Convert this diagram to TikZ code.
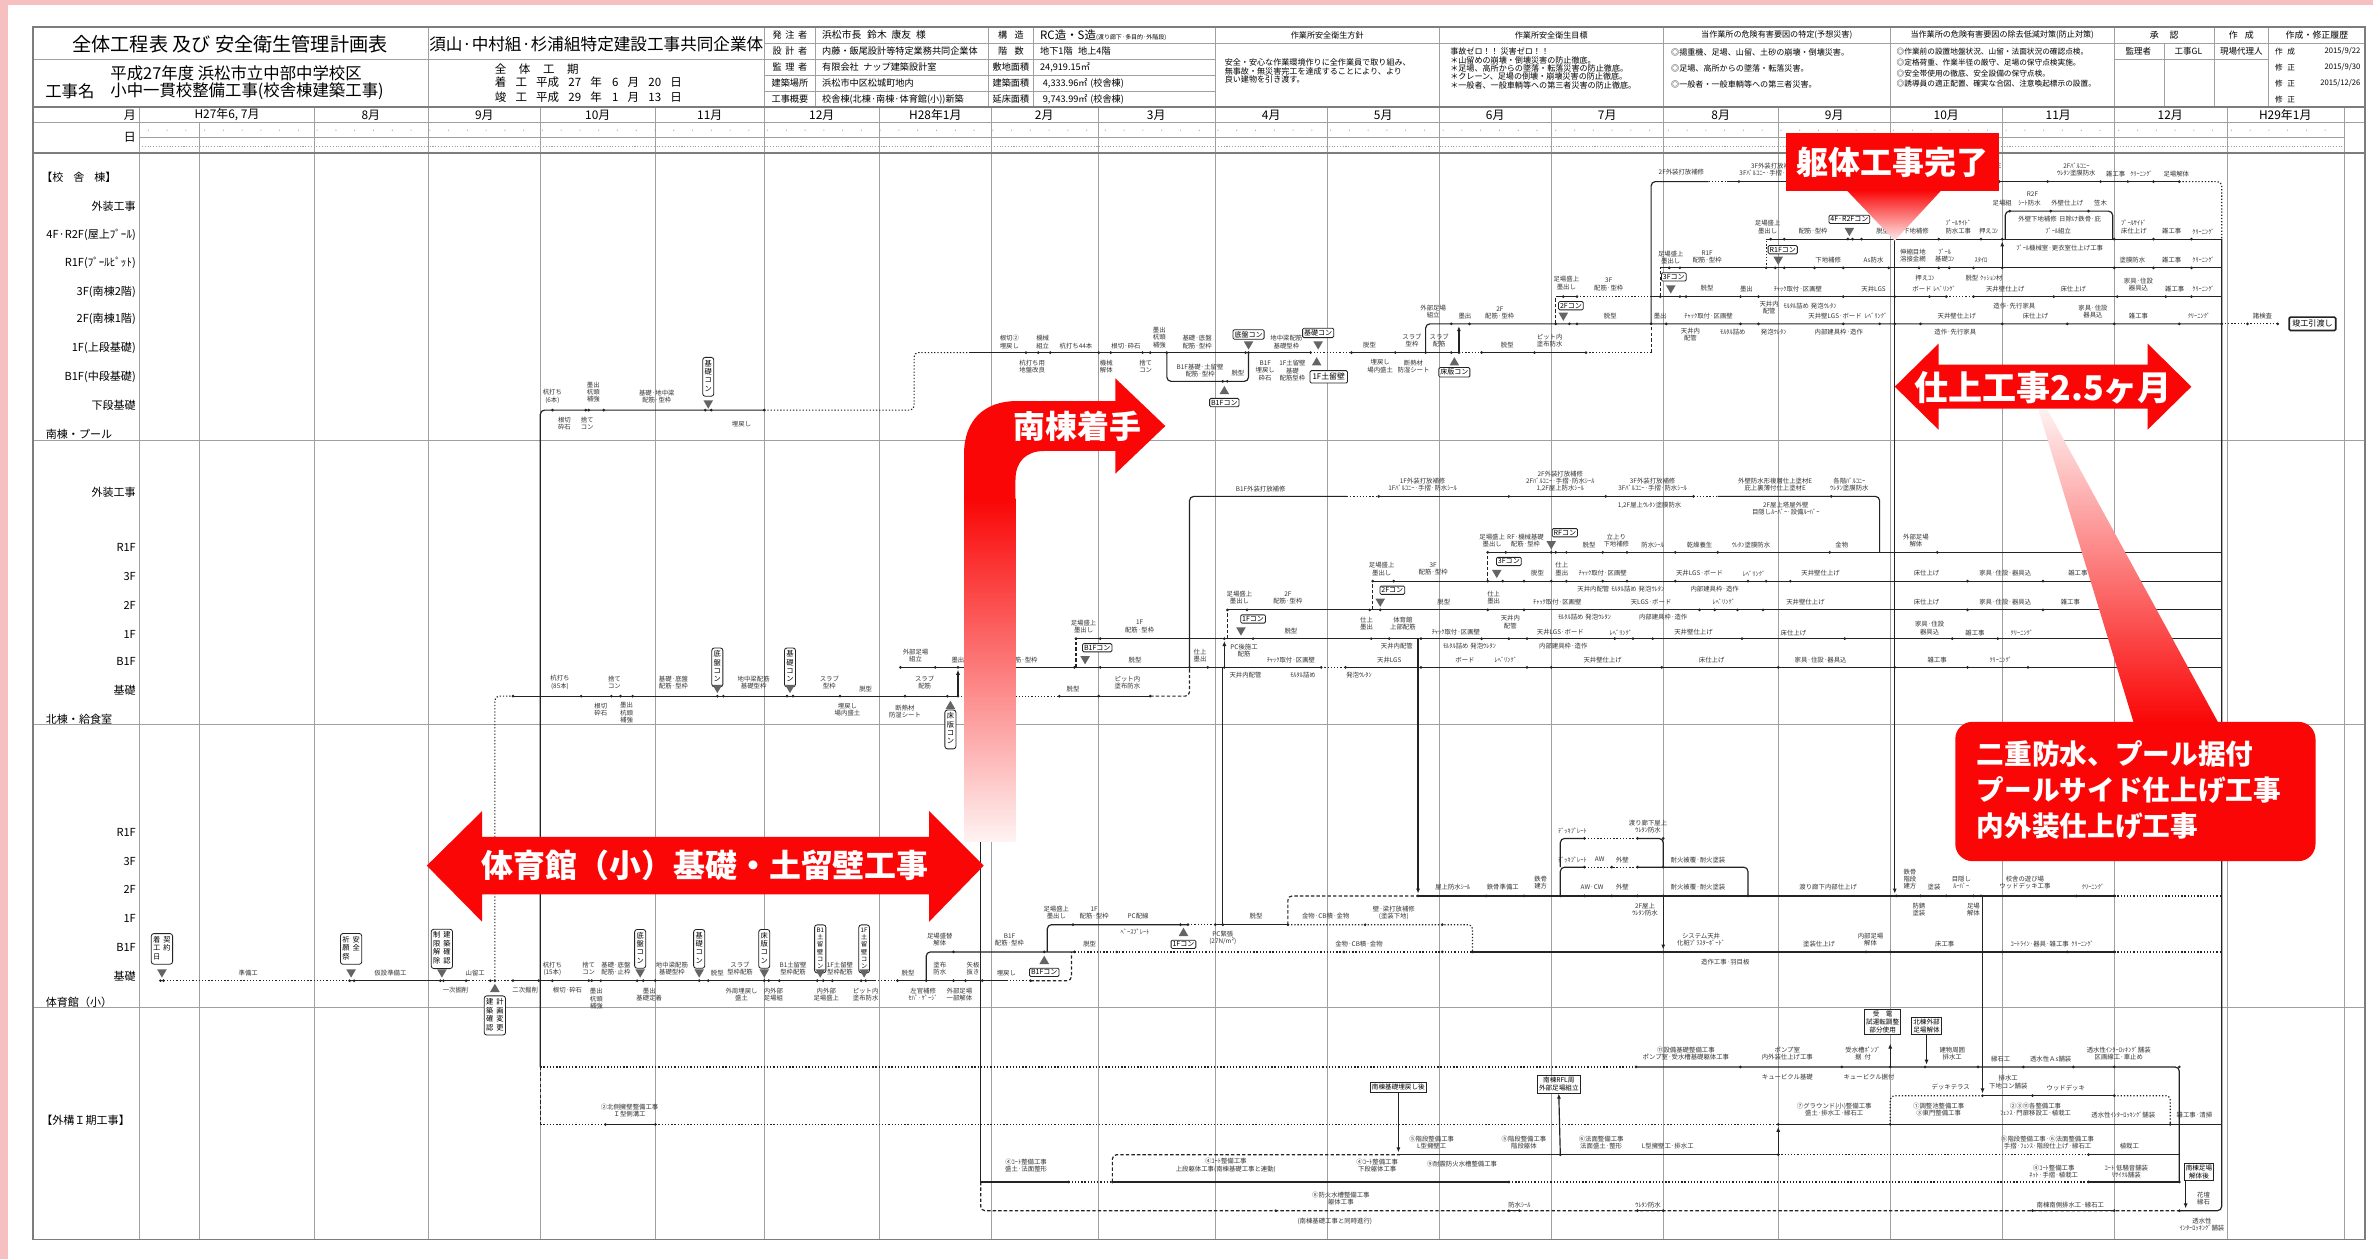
\documentclass[tikz,border=0pt]{standalone}
\usepackage{fontspec}
\setmainfont{Noto Sans CJK JP}
\usetikzlibrary{positioning,arrows.meta,calc}

\definecolor{pinkbg}{RGB}{247,192,192}
\definecolor{callred}{RGB}{250,6,6}
\definecolor{gridgray}{RGB}{160,160,160}
\definecolor{framegray}{RGB}{125,125,125}
\definecolor{linegray}{RGB}{35,35,35}
\definecolor{trigray}{RGB}{100,100,100}

\newcommand\fs[2]{\fontsize{#1pt}{#2pt}\selectfont}
\newcounter{nl}
\newcommand\lb[3]{\stepcounter{nl}\node[tlab] (lb\thenl) at (#1,#2) {#3};}
\newcommand\dts[2]{\foreach \q in {#2}{\fill[linegray] (\q,#1) circle (0.7pt);}}
\newcommand\tdn[2]{\fill[trigray] (#1-3.2,#2-5.5) -- (#1+3.2,#2-5.5) -- (#1,#2) -- cycle;}
\newcommand\tup[2]{\fill[trigray] (#1-3.2,#2+5.5) -- (#1+3.2,#2+5.5) -- (#1,#2) -- cycle;}
\newcommand\mb[3]{\stepcounter{nl}\node[mbox] (mb\thenl) at (#1,#2) {#3};}
\newcommand\vb[3]{\stepcounter{nl}\node[vbox] (vb\thenl) at (#1,#2) {\begin{tabular}{@{}c@{}}#3\end{tabular}};}
\newcommand\vbb[3]{\stepcounter{nl}\node[vbox] (vb\thenl) at (#1,#2) {\begin{tabular}{@{}c@{\hspace{1.4pt}}c@{}}#3\end{tabular}};}

\tikzset{
  frm/.style={draw=framegray, line width=0.9pt},
  grd/.style={draw=gridgray, line width=0.45pt},
  sline/.style={draw=linegray, line width=0.55pt},
  sdot/.style={sline, dash pattern=on 0.6pt off 0.9pt},
  sdsh/.style={sline, dash pattern=on 1.6pt off 1pt},
  arr/.style={-{Latex[length=2.4pt,width=1.9pt]}},
  tlab/.style={font=\fs{3}{3.4}, inner sep=0pt, align=center, text=black!80},
  rowlab/.style={font=\fs{5.2}{6}, anchor=east, inner sep=0pt},
  seclab/.style={font=\fs{5.2}{6}, anchor=west, inner sep=0pt},
  mon/.style={font=\fs{5.6}{6.4}, inner sep=0pt},
  hd/.style={font=\fs{4.3}{5}, inner sep=0pt},
  sm/.style={font=\fs{3.8}{3.95}, inner sep=0pt, align=left, anchor=west},
  mbox/.style={draw=linegray, fill=white, rounded corners=0.6pt, inner sep=0.7pt, font=\fs{3.3}{3.6}, line width=0.4pt},
  vbox/.style={draw=linegray, fill=white, rounded corners=1.2pt, inner xsep=0.9pt, inner ysep=1.2pt, font=\fs{3.4}{3.9}, line width=0.4pt},
  sqbox/.style={draw=linegray, fill=white, inner sep=0.8pt, font=\fs{3.1}{3.7}, align=center, line width=0.45pt},
  bigtxt/.style={text=white, font=\fs{15}{17}\bfseries, inner sep=0pt},
}

\begin{document}
\begin{tikzpicture}[x=0.025cm,y=-0.025cm]
\useasboundingbox (0,0) rectangle (1568,832);
% page
\fill[pinkbg] (0,0) rectangle (1568,832);
\fill[white] (5,3) rectangle (1568,832);

% ===== header grid =====
\draw[grd] (22,39) -- (505,39);
\foreach \yy in {28.6,39.2,49.8,60.4} {\draw[grd] (505,\yy) -- (803,\yy);}
\draw[grd] (803,28.6) -- (1563,28.6);
\draw[grd] (1397,39.2) -- (1499,39.2);
\foreach \xx in {539,653,683,1463,1499} {\draw[grd] (\xx,18) -- (\xx,71);}
\draw[grd] (1430,28.6) -- (1430,71);
\foreach \xx in {283,505,803,951,1099,1249,1397} {\draw[grd] (\xx,18) -- (\xx,71);}
% month and day rows
\draw[grd] (22,81) -- (1563,81);
\draw[grd] (92,91) -- (1549,91);
\draw[grd, dash pattern=on 0.5pt off 0.8pt] (92,97) -- (1549,97);
\foreach \i in {0,...,116} {\fill[gridgray] ({98+12.4*\i},86) circle (0.3pt);}
% month verticals
\foreach \xx in {92,208,283,357,433,505,581,655,726,803,877,951,1025,1099,1175,1249,1323,1397,1472,1549} {\draw[grd] (\xx,71) -- (\xx,819);}
\draw[grd] (132,81) -- (132,819);
% section dividers
\foreach \yy in {291,479,666} {\draw[grd] (22,\yy) -- (1563,\yy);}
\draw[frm] (22,71) -- (1563,71);
\draw[frm] (22,101) -- (1563,101);
\draw[frm] (22,18) rectangle (1563,819);

% ===== header texts =====
\node[font=\fs{9}{10}] (title) at (152,29) {全体工程表 及び 安全衛生管理計画表};
\node[font=\fs{7.8}{9}] (jv) at (394,29) {須山·中村組·杉浦組特定建設工事共同企業体};
\node[font=\fs{7.7}{9}, anchor=west] (year) at (68,48.5) {平成27年度 浜松市立中部中学校区};
\node[font=\fs{7.7}{9}, anchor=west] (kname) at (25,60) {工事名};
\node[font=\fs{7.7}{9}, anchor=west] (kbody) at (68,60) {小中一貫校整備工事(校舎棟建築工事)};
\node[font=\fs{5.4}{6}, anchor=west] (term) at (322,46) {全\hspace{1.1em}体\hspace{1.1em}工\hspace{1.1em}期};
\node[font=\fs{5.4}{6}, anchor=west] (start) at (322,54.5) {着\hspace{0.8em}工\hspace{0.8em}平成\hspace{0.8em}27\hspace{0.8em}年\hspace{0.9em}6\hspace{0.8em}月\hspace{0.8em}20\hspace{0.8em}日};
\node[font=\fs{5.4}{6}, anchor=west] (finish) at (322,64.5) {竣\hspace{0.8em}工\hspace{0.8em}平成\hspace{0.8em}29\hspace{0.8em}年\hspace{0.9em}1\hspace{0.8em}月\hspace{0.8em}13\hspace{0.8em}日};

\node[hd] (i1) at (522,23.3) {発\hspace{0.4em}注\hspace{0.4em}者};
\node[hd] (i2) at (522,33.9) {設\hspace{0.4em}計\hspace{0.4em}者};
\node[hd] (i3) at (522,44.5) {監\hspace{0.4em}理\hspace{0.4em}者};
\node[hd] (i4) at (522,55.1) {建築場所};
\node[hd] (i5) at (522,65.7) {工事概要};
\node[hd, anchor=west, font=\fs{4.6}{5}] (v1) at (543,23.3) {浜松市長\hspace{0.6em}鈴木\hspace{0.5em}康友\hspace{0.5em}様};
\node[hd, anchor=west] (v2) at (543,33.9) {内藤・飯尾設計等特定業務共同企業体};
\node[hd, anchor=west] (v3) at (543,44.5) {有限会社\hspace{0.5em}ナップ建築設計室};
\node[hd, anchor=west] (v4) at (543,55.1) {浜松市中区松城町地内};
\node[hd, anchor=west] (v5) at (543,65.7) {校舎棟(北棟·南棟·体育館(小))新築};
\node[hd] (j1) at (668,23.3) {構\hspace{0.8em}造};
\node[hd] (j2) at (668,33.9) {階\hspace{0.8em}数};
\node[hd] (j3) at (668,44.5) {敷地面積};
\node[hd] (j4) at (668,55.1) {建築面積};
\node[hd] (j5) at (668,65.7) {延床面積};
\node[hd, anchor=west] (w1) at (687,23.3) {{\fs{5.4}{6}RC造・S造}{\fs{2.8}{3}(渡り廊下·多目的·外階段)}};
\node[hd, anchor=west] (w2) at (687,33.9) {地下1階\hspace{0.6em}地上4階};
\node[hd, anchor=west] (w3) at (687,44.5) {24,919.15㎡};
\node[hd, anchor=west] (w4) at (687,55.1) {\hspace{0.3em}4,333.96㎡\hspace{0.3em}(校舎棟)};
\node[hd, anchor=west] (w5) at (687,65.7) {\hspace{0.3em}9,743.99㎡\hspace{0.3em}(校舎棟)};

\node[hd, font=\fs{3.8}{4}] (h1) at (877,23.3) {作業所安全衛生方針};
\node[hd, font=\fs{3.8}{4}] (h2) at (1025,23.3) {作業所安全衛生目標};
\node[hd, font=\fs{3.8}{4}] (h3) at (1174,23.3) {当作業所の危険有害要因の特定(予想災害)};
\node[hd, font=\fs{3.8}{4}] (h4) at (1323,23.3) {当作業所の危険有害要因の除去低減対策(防止対策)};
\node[hd, font=\fs{4.2}{4.5}] (h5) at (1430,23.3) {承\hspace{1.2em}認};
\node[hd, font=\fs{4.2}{4.5}] (h6) at (1481,23.3) {作\hspace{0.8em}成};
\node[hd, font=\fs{4.2}{4.5}] (h7) at (1531,23.3) {作成・修正履歴};
\node[hd, font=\fs{4}{4.5}] (s1) at (1413,33.9) {監理者};
\node[hd, font=\fs{4}{4.5}] (s2) at (1446,33.9) {工事GL};
\node[hd, font=\fs{4}{4.5}] (s3) at (1481,33.9) {現場代理人};
\node[hd, font=\fs{3.6}{4}, anchor=west] (r1) at (1503,33.9) {作\hspace{0.6em}成};
\node[hd, font=\fs{3.6}{4}, anchor=east] (d1) at (1560,33.9) {2015/9/22};
\node[hd, font=\fs{3.6}{4}, anchor=west] (r2) at (1503,44.5) {修\hspace{0.6em}正};
\node[hd, font=\fs{3.6}{4}, anchor=east] (d2) at (1560,44.5) {2015/9/30};
\node[hd, font=\fs{3.6}{4}, anchor=west] (r3) at (1503,55.1) {修\hspace{0.6em}正};
\node[hd, font=\fs{3.6}{4}, anchor=east] (d3) at (1560,55.1) {2015/12/26};
\node[hd, font=\fs{3.6}{4}, anchor=west] (r4) at (1503,65.7) {修\hspace{0.6em}正};

\node[sm] (policy) at (809,47) {安全・安心な作業環境作りに全作業員で取り組み、\\無事故・無災害完工を達成することにより、より\\良い建物を引き渡す。};
\node[sm] (goal) at (958,45.2) {事故ゼロ！！ 災害ゼロ！！\\＊山留めの崩壊・倒壊災害の防止徹底。\\＊足場、高所からの墜落・転落災害の防止徹底。\\＊クレーン、足場の倒壊・崩壊災害の防止徹底。\\＊一般者、一般車輌等への第三者災害の防止徹底。};
\node[sm, font=\fs{3.8}{7.5}] (hazard) at (1104,45.2) {◎揚重機、足場、山留、土砂の崩壊・倒壊災害。\\◎足場、高所からの墜落・転落災害。\\◎一般者・一般車輌等への第三者災害。};
\node[sm, font=\fs{3.6}{5.1}] (measure) at (1253,44.8) {◎作業前の設置地盤状況、山留・法面状況の確認点検。\\◎定格荷重、作業半径の厳守、足場の保守点検実施。\\◎安全帯使用の徹底、安全設備の保守点検。\\◎誘導員の適正配置、確実な合図、注意喚起標示の設置。};

% months
\node[mon, anchor=east] (mlab) at (90,76) {月};
\node[mon, anchor=east] (dlab) at (90,91) {日};
\node[mon] (m01) at (150,76) {H27年6, 7月};
\node[mon] (m02) at (245,76) {8月};
\node[mon] (m03) at (320,76) {9月};
\node[mon] (m04) at (395,76) {10月};
\node[mon] (m05) at (469,76) {11月};
\node[mon] (m06) at (543,76) {12月};
\node[mon] (m07) at (618,76) {H28年1月};
\node[mon] (m08) at (690,76) {2月};
\node[mon] (m09) at (764,76) {3月};
\node[mon] (m10) at (840,76) {4月};
\node[mon] (m11) at (914,76) {5月};
\node[mon] (m12) at (988,76) {6月};
\node[mon] (m13) at (1062,76) {7月};
\node[mon] (m14) at (1137,76) {8月};
\node[mon] (m15) at (1212,76) {9月};
\node[mon] (m16) at (1286,76) {10月};
\node[mon] (m17) at (1360,76) {11月};
\node[mon] (m18) at (1434,76) {12月};
\node[mon] (m19) at (1510,76) {H29年1月};

% row labels
\node[seclab] (secA) at (27,117) {【校\hspace{0.9em}舎\hspace{0.9em}棟】};
\node[rowlab] (ra1) at (90,136) {外装工事};
\node[rowlab] (ra2) at (90,155) {4F·R2F(屋上ﾌﾟｰﾙ)};
\node[rowlab] (ra3) at (90,174) {R1F(ﾌﾟｰﾙﾋﾟｯﾄ)};
\node[rowlab] (ra4) at (90,193) {3F(南棟2階)};
\node[rowlab] (ra5) at (90,211) {2F(南棟1階)};
\node[rowlab] (ra6) at (90,230) {1F(上段基礎)};
\node[rowlab] (ra7) at (90,249) {B1F(中段基礎)};
\node[rowlab] (ra8) at (90,268) {下段基礎};
\node[seclab] (secS) at (30,287) {南棟・プール};
\node[rowlab] (rb1) at (90,325) {外装工事};
\node[rowlab] (rb2) at (90,362) {R1F};
\node[rowlab] (rb3) at (90,381) {3F};
\node[rowlab] (rb4) at (90,400) {2F};
\node[rowlab] (rb5) at (90,419) {1F};
\node[rowlab] (rb6) at (90,437) {B1F};
\node[rowlab] (rb7) at (90,456) {基礎};
\node[seclab] (secN) at (30,475) {北棟・給食室};
\node[rowlab] (rc1) at (90,550) {R1F};
\node[rowlab] (rc2) at (90,569) {3F};
\node[rowlab] (rc3) at (90,588) {2F};
\node[rowlab] (rc4) at (90,607) {1F};
\node[rowlab] (rc5) at (90,626) {B1F};
\node[rowlab] (rc6) at (90,645) {基礎};
\node[seclab] (secG) at (30,662) {体育館（小）};
\node[seclab] (secE) at (27,740) {【外構Ｉ期工事】};

% ===== 南棟・プール =====
\draw[sline, rounded corners=2pt] (357,705) -- (357,271) -- (505,271);
\draw[sdot, rounded corners=2pt] (505,271) -- (604,271) -- (604,233) -- (640,233);
\dts{271}{365,387,389,399,466,470,505}
\lb{365}{262}{杭打ち\\(6本)}
\lb{392}{259}{墨出\\杭頭\\補強}
\lb{434}{262}{基礎·地中梁\\配筋·型枠}
\lb{373}{280}{根切\\砕石}
\lb{388}{280}{捨て\\コン}
\lb{490}{280}{埋戻し}
\vb{468}{249}{基\\礎\\コ\\ン}
\tdn{468}{270}
% 1F
\draw[sline] (640,233) -- (866,233);
\draw[sdot] (866,233) -- (893,233);
\draw[sline] (893,233) -- (964,233);
\draw[sdot] (964,233) -- (979,233);
\draw[sline] (979,233) -- (1048,233);
\draw[sdot] (1048,233) -- (1091,233);
\draw[sdsh] (1091,233) -- (1091,214);
\dts{233}{678,686,694,726,734,755,760,771,823,825,866,893,922,942,959,964,979,1014,1048}
\draw[sline, rounded corners=2pt] (771,233) -- (771,252) -- (825,252) -- (825,233);
\dts{252}{808,811}
\tup{809}{255}
\mb{809}{266}{B1Fコン}
\mb{825}{221}{底盤コン}
\tdn{825}{231}
\mb{871}{220}{基礎コン}
\tdn{871}{231}
\tup{870}{236}
\node[mbox, font=\fs{3.7}{4}, inner sep=1.2pt] (dome) at (878,249) {1F土留壁};
\tup{961}{236}
\mb{961}{246}{床版コン}
\lb{667}{226}{根切②\\埋戻し}
\lb{689}{226}{機械\\組立}
\lb{711}{229}{杭打ち44本}
\lb{744}{229}{根切·砕石}
\lb{766}{223}{墨出\\杭頭\\補強}
\lb{791}{226}{基礎·底盤\\配筋·型枠}
\lb{850}{226}{地中梁配筋\\基礎型枠}
\lb{905}{228}{脱型}
\lb{933}{225}{スラブ\\型枠}
\lb{951}{225}{スラブ\\配筋}
\lb{996}{228}{脱型}
\lb{1024}{225}{ピット内\\塗布防水}
\lb{682}{242}{杭打ち用\\地盤改良}
\lb{731}{242}{機械\\解体}
\lb{757}{242}{捨て\\コン}
\lb{793}{245}{B1F基礎·土留壁\\配筋·型枠}
\lb{818}{246.5}{脱型}
\lb{836}{245}{B1F\\埋戻し\\砕石}
\lb{854}{245}{1F土留壁\\基礎\\配筋型枠}
\lb{912}{242}{埋戻し\\場内盛土}
\lb{934}{242}{断熱材\\防湿シート}
% 2F
\draw[sline, rounded corners=2pt] (942,233) -- (942,214) -- (1468,214);
\draw[sline, arr] (964,233) -- (964,215.5);
\draw[sdot] (1468,214) -- (1505,214);
\dts{214}{959,971,1028,1037,1042,1091,1101,1150,1162,1218,1242,1252,1269,1323,1366,1397,1440,1468,1485,1505}
\mb{1038}{202}{2Fコン}
\tdn{1033}{212}
\node[mbox, line width=0.8pt, font=\fs{3.8}{4}, inner sep=1.4pt] (handover) at (1528,214) {竣工引渡し};
\lb{947}{206}{外部足場\\組立}
\lb{968}{209}{墨出}
\lb{991}{207}{2F\\配筋·型枠}
\lb{1064}{209}{脱型}
\lb{1097}{209}{墨出}
\lb{1129}{209}{ﾁｬｯｸ取付·区画壁}
\lb{1221}{209}{天井壁LGS·ボード\hspace{0.5em}ﾚﾍﾞﾘﾝｸﾞ}
\lb{1293}{209}{天井壁仕上げ}
\lb{1345}{209}{床仕上げ}
\lb{1383}{206}{家具·住設\\器具込}
\lb{1413}{209}{雑工事}
\lb{1453}{209}{ｸﾘｰﾆﾝｸﾞ}
\lb{1495}{209}{諸検査}
\lb{1117}{221}{天井内\\配管}
\lb{1145}{219.5}{ﾓﾙﾀﾙ詰め}
\lb{1172}{219.5}{発泡ｳﾚﾀﾝ}
\lb{1215}{219.5}{内部建具枠·造作}
\lb{1292}{219.5}{造作·先行家具}
% 3F
\draw[sdsh] (1028,214) -- (1028,196);
\draw[sline] (1028,196) -- (1042,196);
\draw[sdot] (1042,196) -- (1091,196);
\draw[sline] (1091,196) -- (1286,196);
\draw[sdot] (1286,196) -- (1304,196);
\draw[sline] (1304,196) -- (1468,196);
\dts{196}{1033,1042,1097,1110,1114,1150,1162,1218,1252,1275,1286,1304,1357,1399,1431,1448}
\mb{1106}{183}{3Fコン}
\tdn{1104}{194}
\lb{1035}{187}{足場盛上\\墨出し}
\lb{1063}{188}{3F\\配筋·型枠}
\lb{1128}{190.5}{脱型}
\lb{1154}{191}{墨出}
\lb{1188}{191}{ﾁｬｯｸ取付·区画壁}
\lb{1238}{191}{天井LGS}
\lb{1272}{184}{押えｺﾝ}
\lb{1278}{191}{ボード\hspace{0.3em}ﾚﾍﾞﾘﾝｸﾞ}
\lb{1311}{184}{脱型\hspace{0.3em}ｸｯｼｮﾝ材}
\lb{1325}{191}{天井壁仕上げ}
\lb{1370}{191}{床仕上げ}
\lb{1413}{188}{家具·住設\\器具込}
\lb{1437}{191}{雑工事}
\lb{1456}{191}{ｸﾘｰﾆﾝｸﾞ}
\lb{1169}{203}{天井内\\配管}
\lb{1196}{202}{ﾓﾙﾀﾙ詰め\hspace{0.3em}発泡ｳﾚﾀﾝ}
\lb{1331}{202}{造作·先行家具}
% R1F
\draw[sdsh] (1097,196) -- (1097,177);
\draw[sline] (1097,177) -- (1468,177);
\dts{177}{1103,1110,1167,1173,1179,1199,1218,1248,1268,1281,1288,1304,1323,1397,1423,1448}
\mb{1178}{165}{R1Fコン}
\tdn{1175}{175}
\draw[sdot] (1167,177) -- (1167,158);
\lb{1104}{170}{足場盛上\\墨出し}
\lb{1128}{170}{R1F\\配筋·型枠}
\lb{1208}{172}{下地補修}
\lb{1238}{172}{As防水}
\lb{1264}{169}{伸縮目地\\溶接金網}
\lb{1285}{169}{ﾌﾟｰﾙ\\基礎ｺﾝ}
\lb{1309}{172}{ｽﾀｲﾛ}
\lb{1361}{164}{ﾌﾟｰﾙ機械室·更衣室仕上げ工事}
\lb{1409}{172}{塗膜防水}
\lb{1435}{172}{雑工事}
\lb{1456}{172}{ｸﾘｰﾆﾝｸﾞ}
% 4F
\draw[sline] (1167,158) -- (1468,158);
\dts{158}{1170,1179,1221,1224,1230,1252,1281,1309,1323,1397,1423,1448}
\mb{1222}{145}{4F·R2Fコン}
\tdn{1222}{156}
\draw[sline, rounded corners=2pt] (1325,158) -- (1325,139.5) -- (1396,139.5) -- (1396,158);
\dts{139.5}{1328,1355,1380}
\draw[sline, arr] (1323,177) -- (1323,159.5);
\lb{1168}{150}{足場盛上\\墨出し}
\lb{1198}{153}{配筋·型枠}
\lb{1244}{153}{脱型}
\lb{1266}{153}{下地補修}
\lb{1294}{150}{ﾌﾟｰﾙｻｲﾄﾞ\\防水工事}
\lb{1314}{153}{押えｺﾝ}
\lb{1361}{145}{外壁下地補修\hspace{0.4em}日除け鉄骨·庇}
\lb{1360}{153}{ﾌﾟｰﾙ組立}
\lb{1410}{150}{ﾌﾟｰﾙｻｲﾄﾞ\\床仕上げ}
\lb{1435}{153}{雑工事}
\lb{1456}{153}{ｸﾘｰﾆﾝｸﾞ}
\lb{1343}{128}{R2F}
\lb{1323}{134}{足場組}
\lb{1341}{134}{ｼｰﾄ防水}
\lb{1366}{134}{外壁仕上げ}
\lb{1388}{134}{笠木}
% exterior (south)
\draw[sline, rounded corners=2pt] (1091,214) -- (1091,120) -- (1129,120);
\draw[sdot] (1129,120) -- (1141,120);
\draw[sline] (1141,120) -- (1440,120);
\draw[sdot, rounded corners=2pt] (1440,120) -- (1468,120) -- (1468,158);
\dts{120}{1149,1321,1353,1388,1406,1423,1440}
\lb{1111}{114}{2F外装打放補修}
\lb{1172}{112}{3F外装打放補修\\3Fﾊﾞﾙｺﾆｰ·手摺·防水ｼｰﾙ}
\lb{1298}{112}{外壁防水形複層仕上塗材E\\庇上裏薄付仕上塗材E}
\lb{1372}{112}{2Fﾊﾞﾙｺﾆｰ\\ｳﾚﾀﾝ塗膜防水}
\lb{1398}{115}{雑工事}
\lb{1415}{115}{ｸﾘｰﾆﾝｸﾞ}
\lb{1438}{115}{足場解体}
% right spine and long vertical
\draw[sline, rounded corners=2pt] (1468,158) -- (1468,800) -- (1440,800);
\draw[sline, arr] (1252,158) -- (1252,590.5);

% ===== 北棟・給食室 =====
\draw[sdot, rounded corners=2pt] (327,648) -- (327,460) -- (339,460);
\draw[sline] (339,460) -- (633,460);
\draw[sdot] (633,460) -- (700,460);
\draw[sline] (700,460) -- (760,460);
\draw[sdsh, rounded corners=2pt] (760,460) -- (786,460) -- (786,441);
\dts{460}{339,384,404,410,418,474,478,520,524,555,598,626,633,700,726,760}
\lb{370}{451}{杭打ち\\(85本)}
\lb{406}{451}{捨て\\コン}
\lb{445}{451}{基礎·底盤\\配筋·型枠}
\lb{397}{469}{根切\\砕石}
\lb{414}{471}{墨出\\杭頭\\補強}
\vb{474}{441}{底\\盤\\コ\\ン}
\tdn{474}{458}
\lb{498}{451}{地中梁配筋\\基礎型枠}
\vb{522}{441}{基\\礎\\コ\\ン}
\tdn{522}{458}
\lb{548}{451}{スラブ\\型枠}
\lb{572}{455}{脱型}
\lb{560}{469}{埋戻し\\場内盛土}
\lb{598}{470}{断熱材\\防湿シート}
\lb{611}{451}{スラブ\\配筋}
\lb{709}{455}{脱型}
\lb{745}{451}{ピット内\\塗布防水}
\tup{628}{463}
\vb{628}{482}{床\\版\\コ\\ン}
\draw[sline, arr] (633,460) -- (633,442.5);
% B1F
\draw[sline] (595,441) -- (873,441);
\draw[sdot] (873,441) -- (889,441);
\draw[sline] (889,441) -- (1468,441);
\dts{441}{595,618,633,710,727,786,798,809,873,889,939,1009,1025,1098,1175,1252,1300,1340}
\mb{725}{428}{B1Fコン}
\tdn{717}{439}
\lb{605}{433}{外部足場\\組立}
\lb{633}{436}{墨出}
\lb{676}{436}{配筋·型枠}
\lb{750}{436}{脱型}
\lb{793}{433}{仕上\\墨出}
\lb{853}{436}{ﾁｬｯｸ取付·区画壁}
\lb{918}{436}{天井LGS}
\lb{968}{436}{ボード}
\lb{995}{436}{ﾚﾍﾞﾘﾝｸﾞ}
\lb{1059}{436}{天井壁仕上げ}
\lb{1131}{436}{床仕上げ}
\lb{1203}{436}{家具·住設·器具込}
\lb{1280}{436}{雑工事}
\lb{1322}{436}{ｸﾘｰﾆﾝｸﾞ}
\lb{823}{446}{天井内配管}
\lb{861}{446}{ﾓﾙﾀﾙ詰め}
\lb{898}{446}{発泡ｳﾚﾀﾝ}
% 1F
\draw[sdsh] (711,441) -- (711,422);
\draw[sline] (711,422) -- (1468,422);
\draw[sline, arr] (809,441) -- (809,423.5);
\dts{422}{711,727,809,828,906,918,939,979,997,1009,1067,1079,1092,1151,1219,1290,1320}
\mb{828}{409}{1Fコン}
\tdn{820}{420}
\lb{716}{414}{足場盛上\\墨出し}
\lb{753}{414}{1F\\配筋·型枠}
\lb{853}{417}{脱型}
\lb{822}{430}{PC後施工\\配筋}
\lb{903}{412}{仕上\\墨出}
\lb{927}{412}{体育館\\上部配筋}
\lb{962}{418}{ﾁｬｯｸ取付·区画壁}
\lb{998}{411}{天井内\\配管}
\lb{1031}{418}{天井LGS·ボード}
\lb{1071}{418}{ﾚﾍﾞﾘﾝｸﾞ}
\lb{1119}{418}{天井壁仕上げ}
\lb{1185}{418}{床仕上げ}
\lb{1275}{415}{家具·住設\\器具込}
\lb{1305}{418}{雑工事}
\lb{1336}{418}{ｸﾘｰﾆﾝｸﾞ}
\lb{923}{427}{天井内配管}
\lb{971}{427}{ﾓﾙﾀﾙ詰め\hspace{0.3em}発泡ｳﾚﾀﾝ}
\lb{1033}{427}{内部建具枠·造作}
% 2F
\draw[sdsh] (811,422) -- (811,403);
\draw[sline] (811,403) -- (1468,403);
\dts{403}{811,824,905,912,983,1007,1123,1133,1148,1165,1300,1350}
\mb{920}{390}{2Fコン}
\tdn{912}{401}
\lb{819}{395}{足場盛上\\墨出し}
\lb{851}{395}{2F\\配筋·型枠}
\lb{954}{398}{脱型}
\lb{987}{395}{仕上\\墨出}
\lb{1029}{398}{ﾁｬｯｸ取付·区画壁}
\lb{1091}{398}{天LGS·ボード}
\lb{1139}{398}{ﾚﾍﾞﾘﾝｸﾞ}
\lb{1193}{398}{天井壁仕上げ}
\lb{1273}{398}{床仕上げ}
\lb{1325}{398}{家具·住設·器具込}
\lb{1368}{398}{雑工事}
\lb{1398}{398}{ｸﾘｰﾆﾝｸﾞ}
\lb{1047}{408}{ﾓﾙﾀﾙ詰め\hspace{0.3em}発泡ｳﾚﾀﾝ}
\lb{1099}{408}{内部建具枠·造作}
% 3F
\draw[sdsh] (907,403) -- (907,384);
\draw[sline] (907,384) -- (1468,384);
\dts{384}{907,921,983,993,1007,1025,1035,1059,1075,1107,1155,1167,1183,1300,1350}
\mb{997}{371}{3Fコン}
\tdn{989}{382}
\lb{913}{376}{足場盛上\\墨出し}
\lb{947}{376}{3F\\配筋·型枠}
\lb{1016}{379}{脱型}
\lb{1032}{376}{仕上\\墨出}
\lb{1059}{379}{ﾁｬｯｸ取付·区画壁}
\lb{1123}{379}{天井LGS·ボード}
\lb{1159}{379}{ﾚﾍﾞﾘﾝｸﾞ}
\lb{1203}{379}{天井壁仕上げ}
\lb{1273}{379}{床仕上げ}
\lb{1325}{379}{家具·住設·器具込}
\lb{1373}{379}{雑工事}
\lb{1400}{379}{ｸﾘｰﾆﾝｸﾞ}
\lb{1071}{389}{天井内配管\hspace{0.3em}ﾓﾙﾀﾙ詰め\hspace{0.3em}発泡ｳﾚﾀﾝ}
\lb{1133}{389}{内部建具枠·造作}
% R1F
\draw[sdsh] (983,384) -- (983,365);
\draw[sline] (983,365) -- (1468,365);
\dts{365}{983,995,1025,1028,1035,1059,1075,1107,1135,1209,1280}
\mb{1034}{352}{RFコン}
\tdn{1025}{363}
\lb{986}{357}{足場盛上\\墨出し}
\lb{1008}{357}{RF·機械基礎\\配筋·型枠}
\lb{1050}{360}{脱型}
\lb{1068}{357}{立上り\\下地補修}
\lb{1092}{360}{防水ｼｰﾙ}
\lb{1123}{360}{乾燥養生}
\lb{1157}{360}{ｳﾚﾀﾝ塗膜防水}
\lb{1217}{360}{金物}
\lb{1266}{357}{外部足場\\解体}
% exterior (north)
\draw[sline, rounded corners=2pt] (786,441) -- (786,328) -- (890,328);
\draw[sdot] (890,328) -- (911,328);
\draw[sline] (911,328) -- (1119,328);
\draw[sdot] (1119,328) -- (1135,328);
\draw[sline, rounded corners=2pt] (1135,328) -- (1242,328) -- (1242,365);
\dts{328}{911,997,1061,1119,1210}
\lb{833}{323}{B1F外装打放補修}
\lb{940}{320}{1F外装打放補修\\1Fﾊﾞﾙｺﾆｰ·手摺·防水ｼｰﾙ}
\lb{1031}{318}{2F外装打放補修\\2Fﾊﾞﾙｺﾆｰ·手摺·防水ｼｰﾙ\\1,2F屋上防水ｼｰﾙ}
\lb{1092}{320}{3F外装打放補修\\3Fﾊﾞﾙｺﾆｰ·手摺·防水ｼｰﾙ}
\lb{1090}{334}{1,2F屋上ｳﾚﾀﾝ塗膜防水}
\lb{1173}{320}{外壁防水形複層仕上塗材E\\庇上裏薄付仕上塗材E}
\lb{1222}{320}{各階ﾊﾞﾙｺﾆｰ\\ｳﾚﾀﾝ塗膜防水}
\lb{1180}{336}{2F屋上塔屋外壁\\目隠しﾙｰﾊﾞｰ·設備ﾙｰﾊﾞｰ}
% links to gym
\draw[sline, arr] (937,422) -- (937,590.5);
\draw[sline] (808,441) -- (808,611);
\draw[sline] (648,460) -- (648,781);

% ===== 体育館（小） =====
\draw[sdot] (106,648) -- (231,648);
\draw[sline] (231,648) -- (310,648);
\draw[sdot] (310,648) -- (339,648);
\draw[sline] (339,648) -- (578,648);
\draw[sdot] (578,648) -- (592,648);
\draw[sline] (592,648) -- (665,648);
\draw[sdot] (665,648) -- (681,648);
\draw[sdsh, rounded corners=2pt] (681,648) -- (708,648) -- (708,629);
\dts{648}{106,108,231,234,291,293,308,324,327,339,356,365,389,391,397,421,425,433,462,468,505,508,515,540,544,550,569,572,593,612,630,638,649,681}
\vbb{107}{627}{着&契\\工&約\\日&}
\tdn{107}{646}
\vbb{232}{627}{祈&安\\願&全\\祭&}
\tdn{232}{646}
\vbb{292}{627}{制&建\\限&築\\解&確\\除&認}
\tdn{292}{646}
\tup{327}{650}
\vbb{327}{671}{建&計\\築&画\\確&変\\認&更}
\vb{423}{627}{底\\盤\\コ\\ン}
\tdn{423}{646}
\vb{462}{627}{基\\礎\\コ\\ン}
\tdn{462}{646}
\vb{505}{627}{床\\版\\コ\\ン}
\tdn{505}{646}
\stepcounter{nl}\node[vbox, font=\fs{2.9}{3.3}] (vb\thenl) at (542,627) {\begin{tabular}{@{}c@{}}B1\\土\\留\\壁\\コ\\ン\end{tabular}};
\tdn{542}{646}
\stepcounter{nl}\node[vbox, font=\fs{2.9}{3.3}] (vb\thenl) at (571,627) {\begin{tabular}{@{}c@{}}1F\\土\\留\\壁\\コ\\ン\end{tabular}};
\tdn{571}{646}
\lb{164}{643}{準備工}
\lb{258}{643}{仮設準備工}
\lb{314}{643}{山留工}
\lb{301}{654}{一次掘削}
\lb{347}{654}{二次掘削}
\lb{365}{640}{杭打ち\\(15本)}
\lb{389}{640}{捨て\\コン}
\lb{407}{640}{基礎·底盤\\配筋·止枠}
\lb{444}{640}{地中梁配筋\\基礎型枠}
\lb{474}{643}{脱型}
\lb{489}{640}{スラブ\\型枠配筋}
\lb{524}{640}{B1土留壁\\型枠配筋}
\lb{555}{640}{1F土留壁\\型枠配筋}
\lb{600}{643}{脱型}
\lb{621}{640}{塗布\\防水}
\lb{643}{640}{矢板\\抜き}
\lb{665}{643}{埋戻し}
\lb{375}{654}{根切·砕石}
\lb{394}{660}{墨出\\杭頭\\補強}
\lb{429}{657}{墨出\\基礎定着}
\lb{490}{657}{外周埋戻し\\盛土}
\lb{511}{657}{内外部\\足場組}
\lb{546}{657}{内外部\\足場盛上}
\lb{572}{657}{ピット内\\塗布防水}
\lb{610}{657}{左官補修\\ｾﾊﾟ·ｹﾞｰｼﾞ}
\lb{634}{657}{外部足場\\一部解体}
% B1F
\draw[sline, rounded corners=2pt] (612,648) -- (612,629) -- (710,629);
\draw[sdot] (710,629) -- (973,629);
\draw[sline] (973,629) -- (1397,629);
\draw[sdot] (1397,629) -- (1468,629);
\dts{629}{630,690,710,738,888,953,973,1099,1233,1249,1323,1366,1397}
\tup{690}{631.5}
\mb{690}{642.5}{B1Fコン}
\lb{621}{621}{足場盛替\\解体}
\lb{667}{621}{B1F\\配筋·型枠}
\lb{720}{624}{脱型}
\lb{898}{624}{金物·CB積·金物}
\lb{1124}{621}{システム天井\\化粧ﾌﾟﾗｽﾀｰﾎﾞｰﾄﾞ}
\lb{1202}{624}{塗装仕上げ}
\lb{1236}{621}{内部足場\\解体}
\lb{1285}{624}{床工事}
\lb{1356}{624}{ｺｰﾄﾗｲﾝ·器具·雑工事\hspace{0.4em}ｸﾘｰﾆﾝｸﾞ}
\lb{1140}{636}{造作工事·羽目板}
\draw[sline, arr] (1099,592) -- (1099,627.5);
% 1F
\draw[sline, rounded corners=2pt] (692,629) -- (692,611) -- (785,611);
\draw[sdot] (785,611) -- (803,611);
\draw[sline] (803,611) -- (851,611);
\draw[sdot, rounded corners=2pt] (851,611) -- (973,611) -- (973,629);
\draw[sdsh, rounded corners=2pt] (851,611) -- (851,592) -- (937,592);
\dts{611}{709,780,785,803,808,851,902,953}
\tup{782}{613}
\mb{782}{624}{1Fコン}
\lb{698}{603}{足場盛上\\墨出し}
\lb{723}{603}{1F\\配筋·型枠}
\lb{752}{605}{PC配線}
\lb{750}{616}{ﾍﾞｰｽﾌﾟﾚｰﾄ}
\lb{808}{620}{PC緊張\\(27N/m²)}
\lb{830}{605}{脱型}
\lb{876}{605}{金物·CB積·金物}
\lb{921}{603}{壁·梁打放補修\\(塗装下地)}
% 2F
\draw[sline] (937,592) -- (1397,592);
\draw[sdot] (1397,592) -- (1468,592);
\dts{592}{937,982,1007,1031,1047,1065,1082,1099,1155,1253,1269,1286,1304,1309,1372,1397}
\lb{960}{586}{屋上防水ｼｰﾙ}
\lb{993}{586}{鉄骨準備工}
\lb{1018}{583}{鉄骨\\建方}
\lb{1052}{586}{AW·CW}
\lb{1072}{586}{外壁}
\lb{1122}{586}{耐火被覆·耐火塗装}
\lb{1208}{586}{渡り廊下内部仕上げ}
\lb{1262}{581}{鉄骨\\階段\\建方}
\lb{1278}{586}{塗装}
\lb{1296}{583}{目隠し\\ﾙｰﾊﾞｰ}
\lb{1338}{583}{校舎の遊び場\\ウッドデッキ工事}
\lb{1383}{586}{ｸﾘｰﾆﾝｸﾞ}
\lb{1087}{601}{2F屋上\\ｳﾚﾀﾝ防水}
\lb{1268}{601}{防錆\\塗装}
\lb{1304}{601}{足場\\解体}
% 3F
\draw[sline, rounded corners=2pt] (1031,592) -- (1031,573) -- (1047,573);
\draw[sdot] (1047,573) -- (1082,573);
\draw[sline, rounded corners=2pt] (1082,573) -- (1155,573) -- (1155,592);
\dts{573}{1047,1065,1082,1099}
\lb{1039}{568}{ﾃﾞｯｷﾌﾟﾚｰﾄ}
\lb{1057}{568}{AW}
\lb{1072}{568}{外壁}
\lb{1122}{568}{耐火被覆·耐火塗装}
% R1F
\draw[sline, rounded corners=2pt] (1031,573) -- (1031,554) -- (1047,554);
\draw[sdot] (1047,554) -- (1082,554);
\draw[sline, rounded corners=2pt] (1082,554) -- (1099,554) -- (1099,573);
\dts{554}{1047,1082,1099}
\lb{1039}{549}{ﾃﾞｯｷﾌﾟﾚｰﾄ}
\lb{1089}{546}{渡り廊下屋上\\ｳﾚﾀﾝ防水}
\draw[sline, arr] (1310,592) -- (1310,722.5);

% ===== 外構Ｉ期工事 =====
\draw[sdsh] (357,705) -- (357,743);
\draw[sdot] (357,705) -- (1081,705);
\draw[sline, rounded corners=2pt] (1081,705) -- (1440,705) -- (1440,781);
\dts{705}{1081,1150,1217,1249,1272,1307,1337,1370,1397,1440}
\node[sqbox] (power) at (1244,675.5) {受\hspace{1em}電\\試運転調整\\部分使用};
\node[sqbox] (nscaf) at (1273,678) {北棟外部\\足場解体};
\draw[sline, arr] (1249,705) -- (1249,689.5);
\draw[sline, arr] (nscaf.south) -- (nscaf.south |- 0,703.5);
\lb{1114}{696}{⑪設備基礎整備工事\\ポンプ室·受水槽基礎躯体工事}
\lb{1181}{696}{ポンプ室\\内外装仕上げ工事}
\lb{1231}{696}{受水槽ﾎﾟﾝﾌﾟ\\据\hspace{0.5em}付}
\lb{1290}{696}{建物周囲\\排水工}
\lb{1322}{700}{縁石工}
\lb{1355}{700}{透水性Ａs舗装}
\lb{1400}{696}{透水性ｲﾝﾀｰﾛｯｷﾝｸﾞ舗装\\区画線工·車止め}
\lb{1181}{712}{キュービクル基礎}
\lb{1235}{712}{キュービクル据付}
% second line
\draw[sdot, rounded corners=2pt] (1249,743) -- (1249,724) -- (1310,724);
\draw[sline] (1310,724) -- (1397,724);
\draw[sdot, rounded corners=2pt] (1397,724) -- (1434,724) -- (1434,743);
\dts{724}{1310,1343,1397}
\lb{1289}{718}{デッキテラス}
\lb{1327}{715}{排水工\\下地コン舗装}
\lb{1365}{719}{ウッドデッキ}
% third line
\draw[sdot] (357,743) -- (400,743);
\draw[sline] (400,743) -- (433,743);
\draw[sdot] (433,743) -- (1175,743);
\draw[sline] (1175,743) -- (1468,743);
\dts{743}{400,433,1175,1249,1434}
\lb{416}{734}{②北側擁壁整備工事\\Ｉ型側溝工}
\lb{1212}{733}{⑦グラウンド(小)整備工事\\盛土·排水工·縁石工}
\lb{1281}{733}{①調整池整備工事\\③東門整備工事}
\lb{1345}{733}{②③⑪各整備工事\\ﾌｪﾝｽ·門扉移設工·植栽工}
\lb{1403}{737}{透水性ｲﾝﾀｰﾛｯｷﾝｸﾞ舗装}
\lb{1450}{737}{雑工事·清掃}
% fourth line
\draw[sdsh, rounded corners=2pt] (735,781) -- (735,763) -- (925,763);
\draw[sline] (925,763) -- (1175,763);
\draw[sdot] (1175,763) -- (1380,763);
\draw[sline] (1380,763) -- (1440,763);
\dts{763}{1031,1175,1380}
\node[sqbox] (rb) at (924,718.5) {南棟基礎埋戻し後};
\draw[sline, arr] (rb.south) -- (rb.south |- 0,761.5);
\node[sqbox] (rfl) at (1030,716.5) {南棟RFL周\\外部足場組立};
\draw[sline, arr] (1031,763) -- (rfl.south);
\draw[sline, arr] (1175,763) -- (1175,744.5);
\lb{946}{755}{⑤階段整備工事\\L型擁壁工}
\lb{1007}{755}{⑤階段整備工事\\階段躯体}
\lb{1058}{755}{⑥法面整備工事\\法面盛土·整形}
\lb{1102}{757}{L型擁壁工·排水工}
\lb{1353}{755}{⑤階段整備工事·⑥法面整備工事\\手摺·ﾌｪﾝｽ·階段仕上げ·縁石工}
\lb{1407}{757}{植栽工}
% fifth line
\draw[sline] (648,781) -- (706,781);
\draw[sdot] (706,781) -- (735,781);
\draw[sline] (735,781) -- (997,781);
\draw[sdot] (997,781) -- (1380,781);
\draw[sline] (1380,781) -- (1440,781);
\dts{781}{706,735,997,1380,1440}
\lb{678}{770}{④ｺｰﾄ整備工事\\盛土·法面整形}
\lb{810}{770}{④ｺｰﾄ整備工事\\上段躯体工事(南棟基礎工事と連動)}
\lb{910}{770}{④ｺｰﾄ整備工事\\下段躯体工事}
\lb{966}{769}{⑨耐震防火水槽整備工事}
\lb{1357}{774}{④ｺｰﾄ整備工事\\ﾈｯﾄ·手摺·植栽工}
\lb{1405}{774}{ｺｰﾄ\hspace{0.3em}低騒音舗装\\ﾘｻｲｸﾙ舗装}
% sixth line
\draw[sdsh, rounded corners=2pt] (648,781) -- (648,800) -- (1440,800);
\draw[sline] (997,800) -- (1004,800);
\draw[sline] (1082,800) -- (1099,800);
\draw[sline] (1343,800) -- (1397,800);
\dts{800}{843,997,1004,1082,1099,1343,1397,1440}
\lb{886}{792}{⑧防火水槽整備工事\\躯体工事}
\lb{882}{807}{(南棟基礎工事と同時進行)}
\lb{1004}{796}{防水ｼｰﾙ}
\lb{1089}{796}{ｳﾚﾀﾝ防水}
\lb{1368}{796}{南棟南側排水工·縁石工}
\node[sqbox] (sscaf) at (1453,774.5) {南棟足場\\解体後};
\draw[sline, arr] ([xshift=-0.22cm]sscaf.south) -- ([xshift=-0.22cm]sscaf.south |- 0,798.5);
\lb{1456}{792}{花壇\\縁石}
\lb{1455}{809}{透水性\\ｲﾝﾀｰﾛｯｷﾝｸﾞ舗装}

% ===== red callouts =====
% tail from 仕上工事 to lower box
\shade[top color=callred!6, bottom color=callred] (1347,271) -- (1353,271) -- (1466,478) -- (1410,478) -- cycle;
% 躯体工事完了
\fill[callred] (1180,88) rectangle (1321,126);
\shade[top color=callred, bottom color=callred!8] (1220,125.5) -- (1283,125.5) -- (1252,159) -- cycle;
\node[bigtxt] (kutai) at (1250.5,107) {躯体工事完了};
% 仕上工事2.5ヶ月
\fill[callred] (1252,255.5) -- (1281,227) -- (1281,241) -- (1419,241) -- (1419,227) -- (1448,255.5) -- (1419,284) -- (1419,270) -- (1281,270) -- (1281,284) -- cycle;
\node[bigtxt, font=\fs{16}{18}\bfseries] (finish2) at (1350,256) {仕上工事2.5ヶ月};
% lower box
\fill[callred, rounded corners=8pt] (1292,477) rectangle (1530,569);
\node[bigtxt, font=\fs{13}{17}\bfseries, align=left, anchor=west] (pool) at (1306,522) {二重防水、プール据付\\プールサイド仕上げ工事\\内外装仕上げ工事};
% 南棟着手
\shade[top color=callred, bottom color=callred!5] (637,329.5) rectangle (671,556);
\fill[callred] (637,330) -- (637,300) .. controls (637,278) and (650,265) .. (672,265) -- (737,265) -- (737,250) -- (770,281.5) -- (737,313) -- (737,298) -- (690,298) .. controls (678,298) and (671,305) .. (671,317) -- (671,330) -- cycle;
\node[bigtxt] (south) at (712,282) {南棟着手};
% 体育館（小）基礎・土留壁工事
\fill[callred] (282,572) -- (318.5,536) -- (318.5,553) -- (614,553) -- (614,536) -- (650,572) -- (614,609) -- (614,591) -- (318.5,591) -- (318.5,609) -- cycle;
\node[bigtxt] (gym) at (466,572) {体育館（小）基礎・土留壁工事};
\end{tikzpicture}
\end{document}
